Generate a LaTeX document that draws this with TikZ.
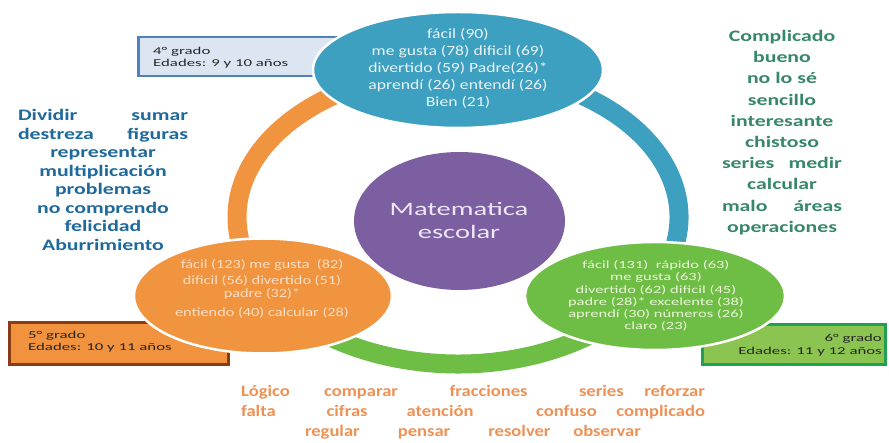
\documentclass[tikz,border=0pt]{standalone}
\usepackage{fontspec}
\setmainfont{Carlito}
\newfontfamily\fBlue{Carlito}[FakeStretch=1.26]
\newfontfamily\fOrange{Carlito}[FakeStretch=1.3]
\newfontfamily\fGreen{Carlito}[FakeStretch=1.5]
\newfontfamily\fPurple{Carlito}[FakeStretch=1.5]
\newfontfamily\fSide{Carlito}[FakeStretch=1.36]
\newfontfamily\fBottom{Carlito}[FakeStretch=1.16]
\newfontfamily\fBox{Carlito}[FakeStretch=1.6]
\usetikzlibrary{shapes.geometric}
\definecolor{cBlue}{RGB}{62,160,192}
\definecolor{cOrange}{RGB}{241,148,64}
\definecolor{cGreen}{RGB}{110,190,70}
\definecolor{cPurple}{RGB}{124,95,160}
\definecolor{tBlue}{RGB}{232,244,248}
\definecolor{tOrange}{RGB}{250,222,198}
\definecolor{tGreen}{RGB}{236,246,218}
\definecolor{tPurple}{RGB}{236,230,246}
\definecolor{cLeft}{RGB}{31,105,155}
\definecolor{cRight}{RGB}{55,135,105}
\definecolor{cBottom}{RGB}{238,145,85}
\definecolor{bxBlueFill}{RGB}{220,230,242}
\definecolor{bxBlueLine}{RGB}{79,129,189}
\definecolor{bxOrFill}{RGB}{240,146,62}
\definecolor{bxOrLine}{RGB}{140,60,20}
\definecolor{bxGrFill}{RGB}{140,196,82}
\definecolor{bxGrLine}{RGB}{32,160,80}
\definecolor{boxtext}{RGB}{38,38,38}
\newcommand\gp[1]{\hspace{0pt plus #1fill}}
\tikzset{
  ringarc/.style={line width=19pt},
  blob/.style={ellipse, draw=white, line width=2.5pt, inner sep=0pt},
  gradebox/.style={rectangle, inner sep=0pt, line width=2.5pt},
  txt/.style={inner sep=0pt, align=center},
  boxtxt/.style={inner sep=0pt, text=boxtext, font=\fBox\fontsize{10.5}{11.7}\selectfont}
}
\begin{document}
\begin{tikzpicture}[x=1pt,y=-1pt]
\useasboundingbox (0,0) rectangle (889,443);
\fill[white] (0,0) rectangle (889,443);
% ring
\coordinate (rc) at (458,217);
\draw[ringarc, cOrange] ([shift={(270:221 and 147)}]rc) arc[start angle=270, end angle=150, x radius=221, y radius=147];
\draw[ringarc, cGreen] ([shift={(150:221 and 147)}]rc) arc[start angle=150, end angle=30, x radius=221, y radius=147];
\draw[ringarc, cBlue] ([shift={(30:221 and 147)}]rc) arc[start angle=30, end angle=-90, x radius=221, y radius=147];
% grade boxes
\node[gradebox, draw=bxBlueLine, fill=bxBlueFill, minimum width=208pt, minimum height=39pt, anchor=north west] (box4) at (137,36) {};
\node[gradebox, draw=bxOrLine, fill=bxOrFill, minimum width=219pt, minimum height=42pt, anchor=north west, line width=3pt] (box5) at (8,321) {};
\node[gradebox, draw=bxGrLine, fill=bxGrFill, minimum width=183pt, minimum height=40pt, anchor=north west, line width=3pt] (box6) at (701,323) {};
\node[boxtxt, anchor=west, align=left] (t4) at (153,57.5) {4° grado\\Edades: 9 y 10 años};
\node[boxtxt, anchor=west, align=left] (t5) at (28,341.5) {5° grado\\Edades: 10 y 11 años};
\node[boxtxt, anchor=east, align=right, font=\fBox\fontsize{10.5}{13.5}\selectfont] (t6) at (882,345) {6° grado\\Edades: 11 y 12 años};
% ellipses
\node[blob, fill=cBlue, minimum width=290pt, minimum height=116pt] (top) at (458,70) {};
\node[blob, fill=cOrange, minimum width=258pt, minimum height=115pt] (left) at (263,296) {};
\node[blob, fill=cGreen, minimum width=260pt, minimum height=108pt] (right) at (655,296) {};
\node[ellipse, fill=cPurple, inner sep=0pt, minimum width=211pt, minimum height=138pt] (center) at (459.5,221) {};
% ellipse texts
\node[txt, text=tBlue, font=\fBlue\fontsize{14}{17}\selectfont] (toptxt) at (458,68)
  {fácil (90)\\ me gusta (78) dificil (69)\\ divertido (59) Padre(26)*\\ aprendí (26) entendí (26)\\ Bien (21)};
\node[txt, text=tOrange, font=\fOrange\fontsize{12.5}{16}\selectfont] (lefttxt) at (262,289)
  {fácil (123) me gusta~ (82)\\ dificil (56) divertido (51)\\[-3pt] padre (32)*\\[3pt] entiendo (40) calcular (28)};
\node[txt, text=tGreen, font=\fGreen\fontsize{11}{12.2}\selectfont] (righttxt) at (656,296)
  {fácil (131)~ rápido (63)\\ me gusta (63)\\ divertido (62) dificil (45)\\ padre (28)* excelente (38)\\ aprendí (30) números (26)\\ claro (23)};
\node[txt, text=tPurple, font=\fPurple\fontsize{19}{23}\selectfont] (centertxt) at (459,221) {Matematica\\ escolar};
% side texts
\node[txt, text=cLeft, font=\fSide\bfseries\fontsize{16}{18.5}\selectfont] (wordsL) at (103,180)
  {\makebox[170pt][s]{Dividir sumar}\\ \makebox[170pt][s]{destreza figuras}\\ representar\\ multiplicación\\ problemas\\ no comprendo\\ felicidad\\ Aburrimiento};
\node[txt, text=cRight, font=\fSide\bfseries\fontsize{16}{21.2}\selectfont] (wordsR) at (782,132.5)
  {Complicado\\ bueno\\ no lo sé\\ sencillo\\ interesante\\ chistoso\\ \makebox[120pt][s]{series medir}\\ calcular\\ \makebox[120pt][s]{malo áreas}\\ operaciones};
\node[txt, text=cBottom, font=\fBottom\bfseries\fontsize{16}{20}\selectfont] (wordsB) at (473,412)
  {\hbox to 464pt{Lógico\gp{1}comparar\gp{1.5}fracciones\gp{1.5}series\gp{0.6}reforzar}\\
   \hbox to 464pt{falta\gp{1.3}cifras\gp{1}atención\gp{1.6}confuso\gp{0.5}complicado}\\
   \hbox to 336pt{regular\gp{1}pensar\gp{1}resolver\gp{0.6}observar}};
\end{tikzpicture}
\end{document}
